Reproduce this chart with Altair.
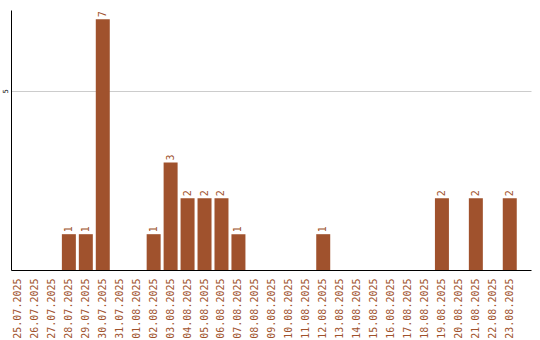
import altair as alt
import pandas as pd

dates = ["25.07.2025", "26.07.2025", "27.07.2025", "28.07.2025", "29.07.2025", "30.07.2025",
         "31.07.2025", "01.08.2025", "02.08.2025", "03.08.2025", "04.08.2025", "05.08.2025",
         "06.08.2025", "07.08.2025", "08.08.2025", "09.08.2025", "10.08.2025", "11.08.2025",
         "12.08.2025", "13.08.2025", "14.08.2025", "15.08.2025", "16.08.2025", "17.08.2025",
         "18.08.2025", "19.08.2025", "20.08.2025", "21.08.2025", "22.08.2025", "23.08.2025"]
counts = [0, 0, 0, 1, 1, 7, 0, 0, 1, 3, 2, 2, 2, 1, 0, 0, 0, 0,
          1, 0, 0, 0, 0, 0, 0, 2, 0, 2, 0, 2]

df = pd.DataFrame({"date": dates, "count": counts})
COLOR = "#a0522d"
FONT = "DejaVu Sans Mono"

x = alt.X("date:N", sort=dates, title=None,
          scale=alt.Scale(paddingInner=0.175, paddingOuter=0.42, align=0),
          axis=alt.Axis(labelAngle=-90, labelColor=COLOR, labelFont=FONT, labelFontSize=10,
                        ticks=False, labelPadding=8, domainColor="black", grid=False))
y = alt.Y("count:Q", title=None,
          scale=alt.Scale(domain=[0, 7.26], nice=False),
          axis=alt.Axis(values=[5], labelAngle=-90, labelFontSize=7, labelFont=FONT,
                        labelColor="black", ticks=False, labelPadding=3, grid=True,
                        gridColor="#cccccc", domainColor="black", labelAlign="center",
                        labelBaseline="bottom"))

bars = alt.Chart(df).mark_bar(color=COLOR).encode(x=x, y=y)
text = alt.Chart(df).transform_filter("datum.count > 0").mark_text(
    angle=270, align="left", baseline="middle", dx=2, color=COLOR, font=FONT, fontSize=10
).encode(x=alt.X("date:N", sort=dates), y="count:Q", text="count:Q")

chart = (bars + text).properties(
    width=520, height=260,
    autosize=alt.AutoSizeParams(type="none"),
    padding={"left": 11, "top": 10, "right": 9, "bottom": 70},
    background="white",
).configure_view(stroke=None)

chart.save("out.html", embed_options={"renderer": "svg", "actions": False})
